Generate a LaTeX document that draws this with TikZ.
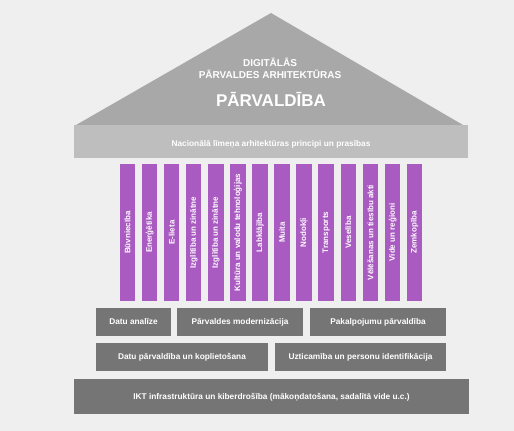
\documentclass[tikz,border=0pt]{standalone}
\usepackage{fontspec}
\setmainfont{Liberation Sans}
\usepackage{xcolor}
\definecolor{paper}{HTML}{EFEFEF}
\definecolor{roofgrey}{HTML}{A8A8A8}
\definecolor{bandgrey}{HTML}{BEBEBE}
\definecolor{pillar}{HTML}{A95BC1}
\definecolor{slab}{HTML}{757575}

\begin{document}
\begin{tikzpicture}[x=1pt, y=-1pt, font=\bfseries]
  % page = 514 x 431 px, one px per pt, y runs downward like the screenshot
  \fill[paper] (0,0) rectangle (514,431);
  \useasboundingbox (0,0) rectangle (514,431);
  \tikzset{
    rooftext/.style={text=white, inner sep=0pt, align=center},
    band/.style={fill=bandgrey, inner sep=0pt,
                 minimum width=394pt, minimum height=33pt},
    bandtext/.style={text=white, inner sep=0pt,
                     font=\fontsize{8.3}{9}\selectfont\bfseries},
    column/.style={fill=pillar, text=white, inner sep=0pt, rotate=90,
                   minimum width=137pt, minimum height=15.5pt,
                   font=\fontsize{8}{9}\selectfont\bfseries},
    slabbox/.style={fill=slab, text=white, inner sep=0pt,
                    minimum height=28pt, text depth=1.5pt,
                    font=\fontsize{8.3}{9}\selectfont\bfseries}}

  % ========== the roof ======================================================
  \fill[roofgrey] (76,125) -- (271,13) -- (463,125) -- cycle;
  \node[rooftext, font=\fontsize{10}{11.5}\selectfont\bfseries] (rooftop)
    at (270,68.5) {DIGITĀLĀS\\PĀRVALDES ARHITEKTŪRAS};
  \node[rooftext, font=\fontsize{17}{19}\selectfont\bfseries] (roofname)
    at (271,99) {PĀRVALDĪBA};

  % --- the architrave: text sits low in the band ----------------------------
  \node[band] (principles) at (271,141.5) {};
  \node[bandtext] (principlestext) at (271,144.8)
    {Nacionālā līmeņa arhitektūras principi un prasības};

  % ========== the columns: 14 sectors, pitch 22.08 ========================
  \foreach \name [count=\i from 0] in {Būvniecība, Enerģētika, E-lieta,
      Izglītība un zinātne, Izglītība un zinātne,
      Kultūra un valodu tehnoloģijas, Labklājība, Muita, Nodokļi,
      Transports, Veselība, Vēlēšanas un tiesību akti, Vide un reģioni,
      Zemkopība}
    \node[column] (col\i) at ({127.5+22.08*\i},232.5) {\name};

  % ========== the foundation =================================================
  % r1 -- three service blocks
  \node[slabbox, minimum width=75pt]  (analysis) at (133.5,322) {Datu analīze};
  \node[slabbox, minimum width=126pt] (modern)   at (240,322)
    {Pārvaldes modernizācija};
  \node[slabbox, minimum width=136pt] (services) at (378,322)
    {Pakalpojumu pārvaldība};

  % r2 -- two data / trust blocks
  \node[slabbox, minimum width=172pt] (datamgmt) at (182,357)
    {Datu pārvaldība un koplietošana};
  \node[slabbox, minimum width=171pt] (trust)    at (360.5,357)
    {Uzticamība un personu identifikācija};

  % r3 -- the plinth
  \node[slabbox, minimum width=395pt, minimum height=35pt, text depth=0pt]
    (ict) at (271.5,396.5)
    {IKT infrastruktūra un kiberdrošība (mākoņdatošana, sadalītā vide u.c.)};
\end{tikzpicture}
\end{document}
